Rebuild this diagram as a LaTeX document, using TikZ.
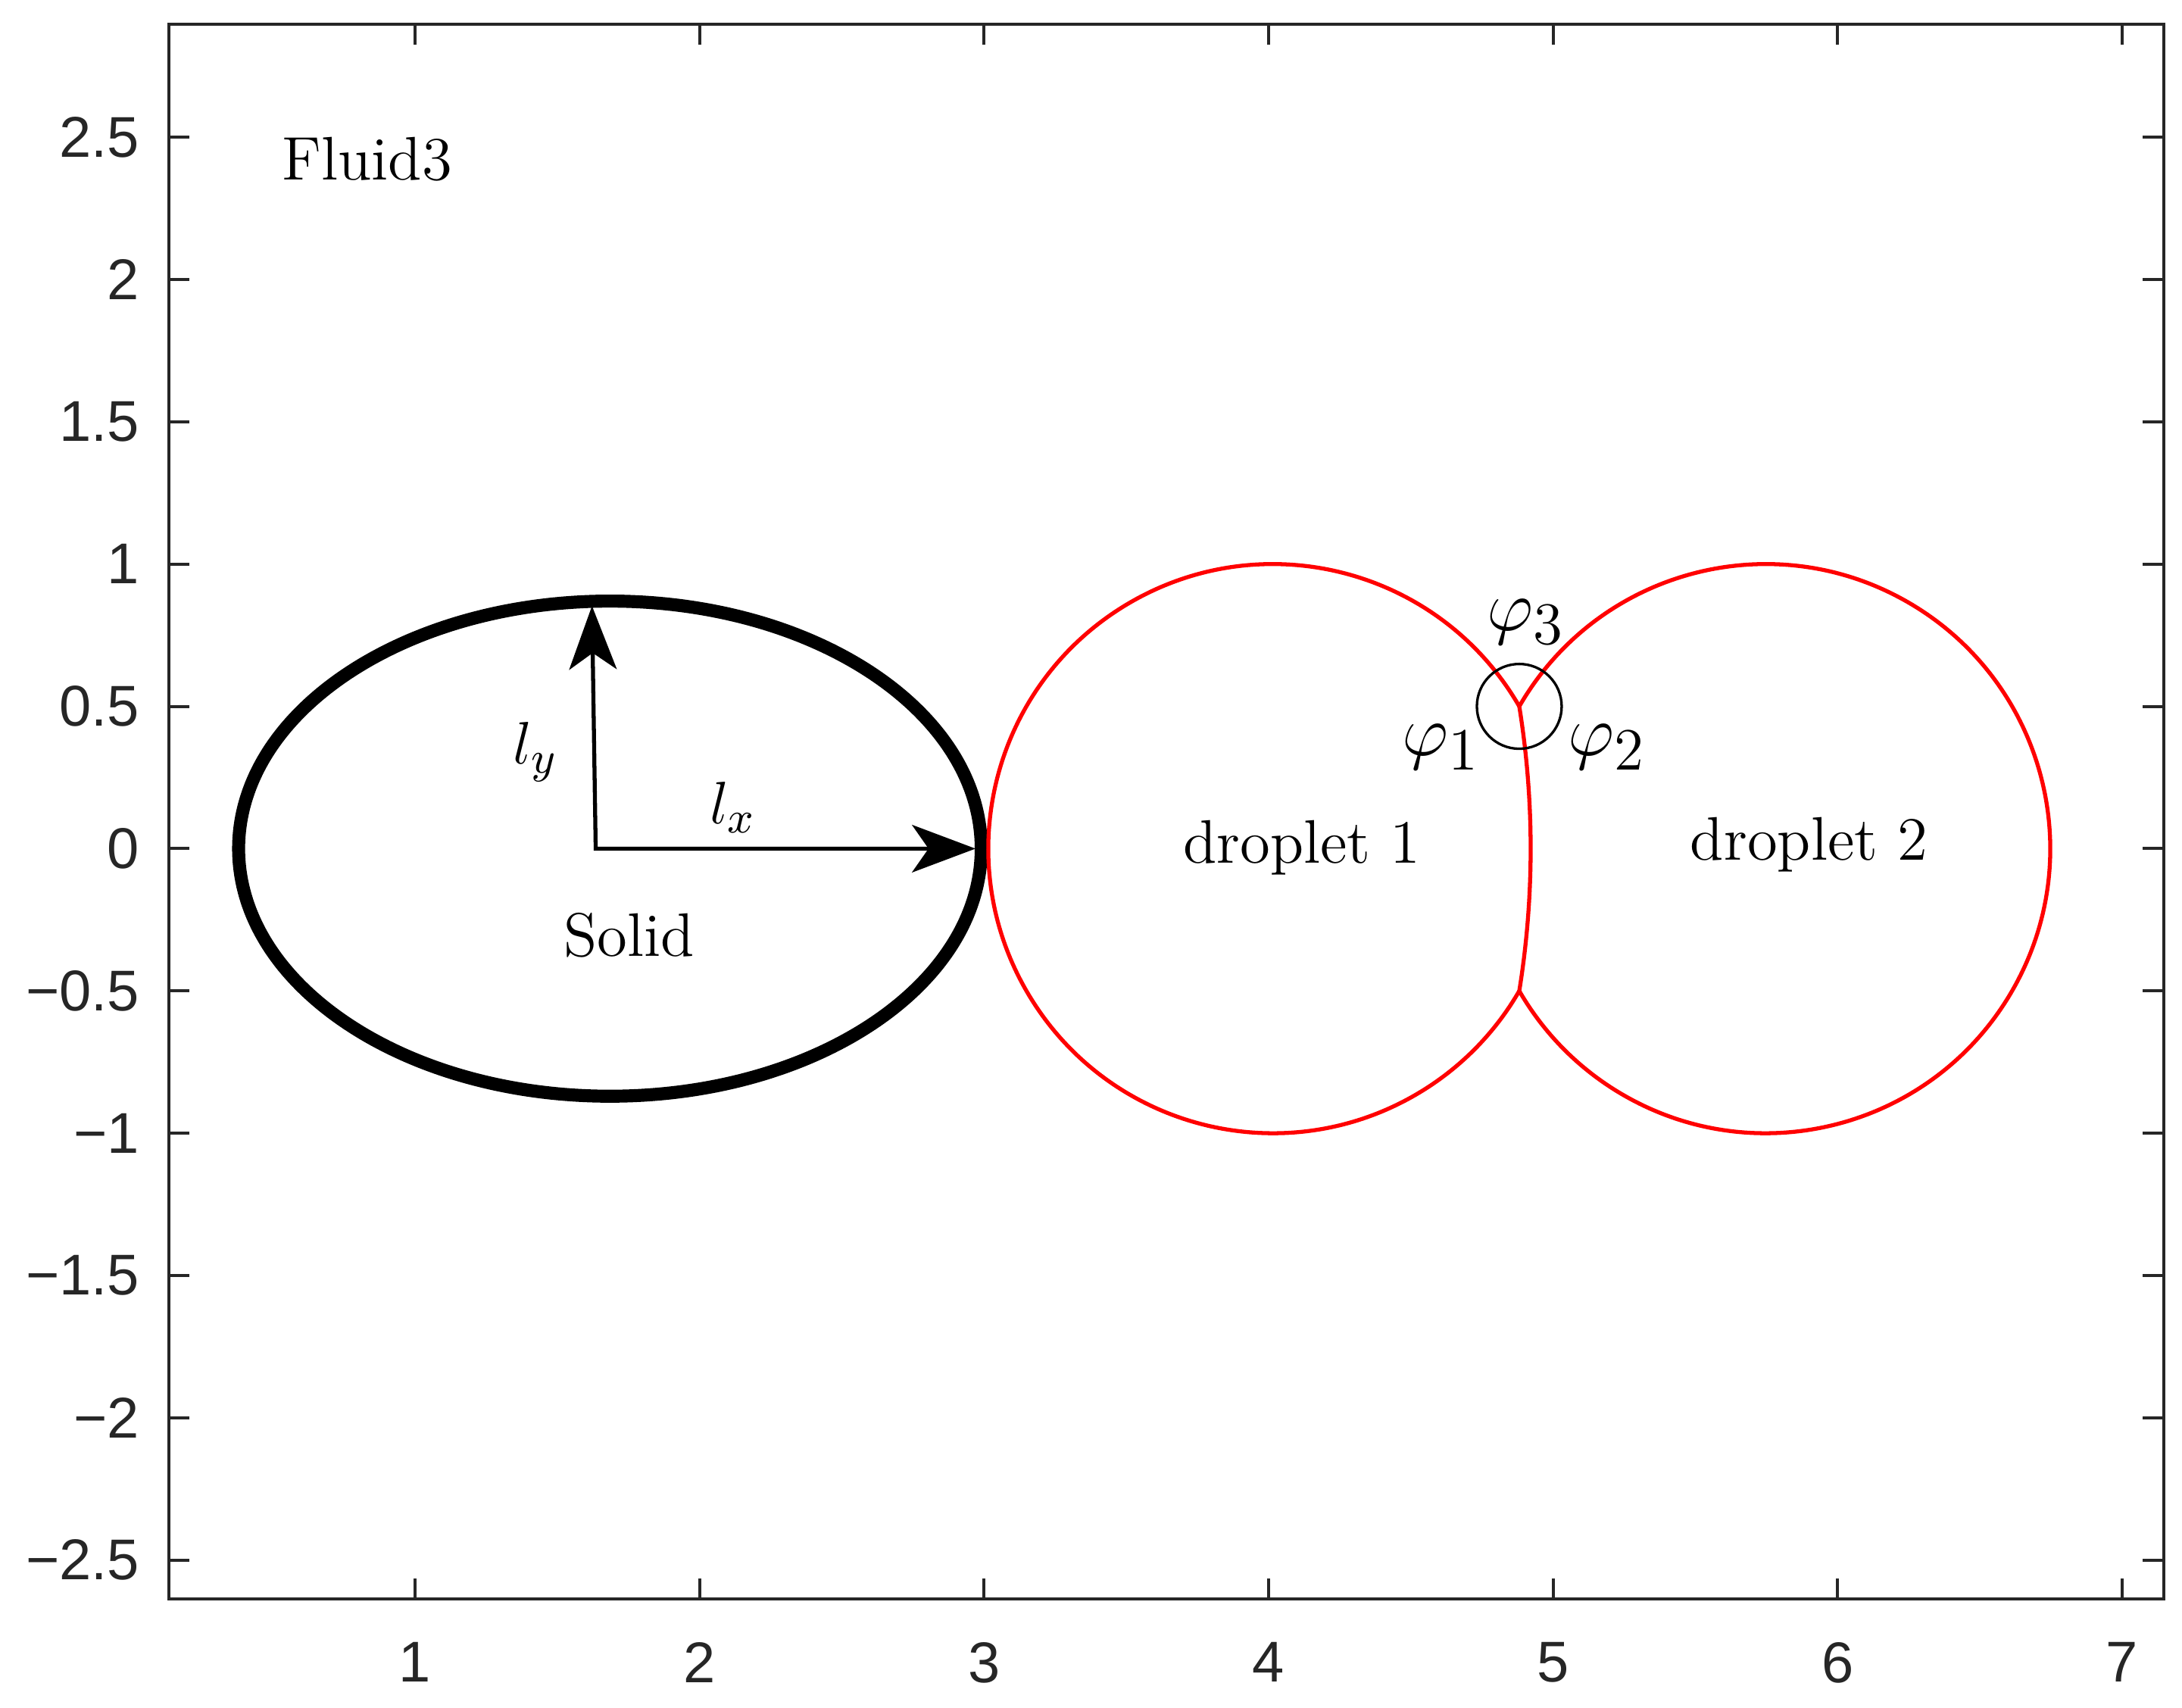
\documentclass[tikz,border=0pt]{standalone}
\usepackage{fontspec}
\usepackage{tikz}
\usetikzlibrary{arrows.meta}
\newfontfamily\tickfont{Liberation Sans}
\DeclareMathSizes{12.3}{12.3}{9.5}{7}
\DeclareMathSizes{14.6}{14.6}{11.6}{8}

\begin{document}
\begin{tikzpicture}[x=2cm,y=2cm,
  axisline/.style={line width=0.6pt,draw=axisgray},
  ticklabel/.style={font=\tickfont\fontsize{11.5}{13}\selectfont,text=axisgray,inner sep=0pt},
  plotlabel/.style={font=\fontsize{12.3}{14}\selectfont,inner sep=0pt},
  philabel/.style={font=\fontsize{14.6}{17}\selectfont,inner sep=0pt},
  interface/.style={draw=dropred,line width=0.8pt},
  lenarrow/.style={line width=0.8pt,{Stealth[length=12.7pt,width=9.5pt,inset=3.3pt]}-{Stealth[length=12.7pt,width=9.5pt,inset=3.3pt]}}]
\definecolor{axisgray}{rgb}{0.15,0.15,0.15}
\definecolor{dropred}{rgb}{1,0,0}
\useasboundingbox (-0.4586,-3.0197) rectangle (7.2103,2.9824);
\draw[axisline] (0.135,-2.636) rectangle (7.145,2.897);
  \foreach \xt in {1,...,7}
  {  \draw[axisline] (\xt,-2.636) -- ++(0,0.072);
     \draw[axisline] (\xt,2.897) -- ++(0,-0.072);
     \node[ticklabel] (xl\xt) at (\xt,-2.86) {\xt};}
  \foreach \yt/\ytext [count=\i] in {2.5/2.5,2/2,1.5/1.5,1/1,0.5/0.5,0/0,-0.5/−0.5,-1/−1,-1.5/−1.5,-2/−2,-2.5/−2.5}
  {  \draw[axisline] (0.135,\yt) -- ++(0.072,0);
     \draw[axisline] (7.145,\yt) -- ++(-0.072,0);
     \node[ticklabel,anchor=east] (yl\i) at (0.035,\yt) {\ytext};}
\draw[line width=2.6pt] (1.685,0) ellipse [x radius=1.305,y radius=0.87];
\coordinate (o) at (1.635,0);
\coordinate (ly) at (1.622,0.853);
\coordinate (lx) at (2.97,0);
\draw[lenarrow] (ly) -- (o) -- (lx);
\coordinate (jt) at (4.881,0.5);
\coordinate (jb) at (4.881,-0.5);
\draw[interface] (jt) arc[start angle=30,end angle=330,radius=1];
\draw[interface] (jt) arc[start angle=150,end angle=-150,radius=1];
\draw[interface] (jt) arc[start angle=9.15,end angle=-9.15,radius=3.145];
\draw[line width=0.5pt] (jt) circle[radius=0.149];
\node[plotlabel,anchor=base west] (fluid) at (0.53,2.351) {Fluid3};
\node[plotlabel,anchor=base] (solid) at (1.753,-0.377) {Solid};
\node[plotlabel,anchor=base] (drop1) at (4.117,-0.052) {droplet 1};
\node[plotlabel,anchor=base] (drop2) at (5.90,-0.039) {droplet 2};
\node[philabel] (phi3) at (4.906,0.796) {$\varphi_3$};
\node[philabel] (phi1) at (4.608,0.356) {$\varphi_1$};
\node[philabel] (phi2) at (5.190,0.356) {$\varphi_2$};
\node[plotlabel] (lylab) at (1.424,0.341) {$l_y$};
\node[plotlabel] (lxlab) at (2.119,0.146) {$l_x$};
\end{tikzpicture}
\end{document}
